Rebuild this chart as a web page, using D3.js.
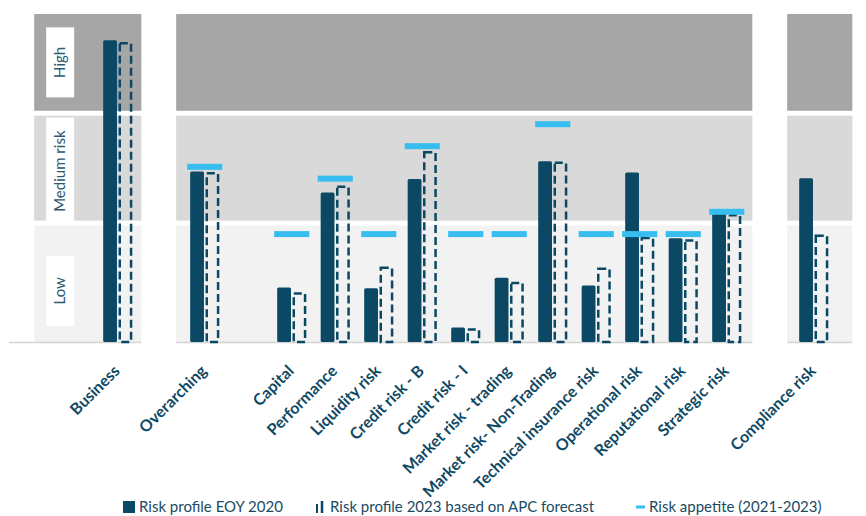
<!DOCTYPE html>
<html>
<head>
<meta charset="utf-8">
<script src="https://cdn.jsdelivr.net/npm/d3@7"></script>
<style>
  body { margin: 0; background: #fff; }
  svg { display: block; font-family: Lato, "Open Sans", sans-serif; }
</style>
</head>
<body>
<script>
(function(){

//chart values
var categories = ["Business", "Overarching", "Capital", "Performance", "Liquidity risk", "Credit risk - B",
    "Credit risk - I", "Market risk - trading", "Market risk- Non-Trading", "Technical insurance risk",
    "Operational risk", "Reputational risk", "Strategic risk", "Compliance risk"];
var profile2020 = [92, 52, 16.6, 45.6, 16.4, 49.7, 4.4, 19.6, 55.1, 17.2, 51.7, 31.6, 39.2, 49.9];
var profile2023 = [91.5, 51.8, 15.2, 47.7, 23, 58.2, 4.2, 18.4, 55, 22.7, 32.1, 31.3, 39, 32.8];
var appetite = [null, 53.4, 32.9, 49.8, 32.9, 59.7, 32.9, 32.9, 66.4, 32.9, 32.9, 32.9, 39.7, null];

//risk bands (score ranges)
var bandNames = ["Low", "Medium risk", "High"];
var bandFrom = [0, 37, 70.5];
var bandTo = [35.5, 69, 100];

//category groups separated by an empty slot, and the background panels
var groups = [["Business"], ["Overarching"],
    ["Capital", "Performance", "Liquidity risk", "Credit risk - B", "Credit risk - I", "Market risk - trading",
     "Market risk- Non-Trading", "Technical insurance risk", "Operational risk", "Reputational risk", "Strategic risk"],
    ["Compliance risk"]];
var panels = [["Business", "Business"], ["Overarching", "Strategic risk"], ["Compliance risk", "Compliance risk"]];

var legendLabels = ["Risk profile EOY 2020", "Risk profile 2023 based on APC forecast", "Risk appetite (2021-2023)"];

//styles
var barColor = "#0b4863",
    appetiteColor = "#38bdf0",
    bandColors = ["#f2f2f2", "#d9d9d9", "#a6a6a6"],
    textColor = "#0f4963";

var width = 866, height = 516;

var svg = d3.select("body").append("svg")
    .attr("width", width)
    .attr("height", height);

//x slots: groups with an empty slot between them
var slots = [];
groups.forEach(function(g, i){
    if (i > 0) slots.push("_gap" + i);
    g.forEach(function(c){ slots.push(c); });
});

var x = d3.scaleBand()
    .domain(slots)
    .range([96, 96 + slots.length * 43.5])
    .paddingInner(0.33)
    .paddingOuter(0.165);

var xInner = d3.scaleBand()
    .domain(["eoy", "fc"])
    .range([0, x.bandwidth()])
    .paddingInner(0.1);

var y = d3.scaleLinear()
    .domain([0, 100])
    .range([342, 14]);

//background panels
var panelPadL = [69, 14, 12],
    panelPadR = [9, 11, 24];

var panelG = svg.append("g").attr("class", "panels");
panels.forEach(function(p, i){
    var x0 = x(p[0]) - panelPadL[i],
        x1 = x(p[1]) + x.bandwidth() + panelPadR[i];
    panelG.selectAll(".band" + i)
        .data(bandNames)
        .enter()
        .append("rect")
        .attr("x", x0)
        .attr("width", x1 - x0)
        .attr("y", function(d, j){ return y(bandTo[j]); })
        .attr("height", function(d, j){ return y(bandFrom[j]) - y(bandTo[j]); })
        .style("fill", function(d, j){ return bandColors[j]; });

    //baseline
    panelG.append("line")
        .attr("x1", i == 0 ? 9 : x0)
        .attr("x2", x1)
        .attr("y1", y(0) + 0.5)
        .attr("y2", y(0) + 0.5)
        .style("stroke", "#d4d4d4")
        .style("stroke-width", 1.5);
});

//band labels in white boxes
var labelX = x(panels[0][0]) - panelPadL[0] + 26;
var bandLabels = svg.append("g").attr("class", "bandLabels")
    .selectAll("g")
    .data(bandNames)
    .enter()
    .append("g")
    .attr("transform", function(d, j){
        var cy = (y(bandFrom[j]) + y(bandTo[j])) / 2 + (j == 0 ? 7 : j == 1 ? 3 : 0);
        return "translate(" + labelX + "," + cy + ")";
    });

bandLabels.append("rect")
    .attr("class", "labelBox")
    .style("fill", "#fff");

bandLabels.append("text")
    .attr("transform", "rotate(-90)")
    .attr("text-anchor", "middle")
    .attr("dy", "0.35em")
    .style("font-size", "15px")
    .style("fill", "#2a5a70")
    .text(function(d){ return d; });

bandLabels.each(function(){
    var g = d3.select(this);
    var len = g.select("text").node().getComputedTextLength();
    var h = Math.max(70, len + 26);
    g.select("rect")
        .attr("x", -14)
        .attr("width", 28)
        .attr("y", -h / 2)
        .attr("height", h);
});

//bars
var data = categories.map(function(c, i){
    return {cat: c, eoy: profile2020[i], fc: profile2023[i], app: appetite[i]};
});

var barG = svg.append("g").attr("class", "bars");

barG.selectAll(".eoy")
    .data(data)
    .enter()
    .append("rect")
    .attr("class", "eoy")
    .attr("x", function(d){ return x(d.cat) + xInner("eoy"); })
    .attr("width", xInner.bandwidth())
    .attr("y", function(d){ return y(d.eoy); })
    .attr("height", function(d){ return y(0) - y(d.eoy); })
    .attr("rx", 1.5)
    .style("fill", barColor);

barG.selectAll(".fc")
    .data(data)
    .enter()
    .append("rect")
    .attr("class", "fc")
    .attr("x", function(d){ return x(d.cat) + xInner("fc") + 1.25; })
    .attr("width", xInner.bandwidth() - 2.5)
    .attr("y", function(d){ return y(d.fc) + 1.25; })
    .attr("height", function(d){ return y(0) - y(d.fc) - 1.25; })
    .style("fill", "none")
    .style("stroke", barColor)
    .style("stroke-width", 2.5)
    .style("stroke-dasharray", "8,4");

//risk appetite markers
barG.selectAll(".appetite")
    .data(data.filter(function(d){ return d.app != null; }))
    .enter()
    .append("rect")
    .attr("class", "appetite")
    .attr("x", function(d){ return x(d.cat) - 3; })
    .attr("width", x.bandwidth() + 6)
    .attr("y", function(d){ return y(d.app) - 3; })
    .attr("height", 6)
    .style("fill", appetiteColor);

//category labels
svg.append("g").attr("class", "xLabels")
    .selectAll("text")
    .data(categories)
    .enter()
    .append("text")
    .attr("transform", function(d){
        return "translate(" + (x(d) + x.bandwidth() / 2 + 3) + "," + (y(0) + 30) + ") rotate(-45)";
    })
    .attr("text-anchor", "end")
    .style("font-size", "16px")
    .style("font-weight", "bold")
    .style("fill", textColor)
    .text(function(d){ return d; });

//legend
var legendY = 507;
var legendX = [123, 316, 636];
var textX = [139, 330, 649];
var legend = svg.append("g").attr("class", "legend");

legend.append("rect")
    .attr("x", legendX[0])
    .attr("y", legendY - 6)
    .attr("width", 12)
    .attr("height", 12)
    .style("fill", barColor);

legend.append("line")
    .attr("x1", legendX[1] + 1).attr("x2", legendX[1] + 1)
    .attr("y1", legendY - 3).attr("y2", legendY + 6)
    .style("stroke", barColor).style("stroke-width", 2);
legend.append("line")
    .attr("x1", legendX[1] + 6).attr("x2", legendX[1] + 6)
    .attr("y1", legendY - 6).attr("y2", legendY + 6)
    .style("stroke", barColor).style("stroke-width", 2.5);

legend.append("line")
    .attr("x1", legendX[2]).attr("x2", legendX[2] + 9)
    .attr("y1", legendY).attr("y2", legendY)
    .style("stroke", appetiteColor).style("stroke-width", 3);

legend.selectAll("text")
    .data(legendLabels)
    .enter()
    .append("text")
    .attr("x", function(d, i){ return textX[i]; })
    .attr("y", legendY)
    .attr("dy", "0.35em")
    .style("font-size", "15px")
    .style("fill", "#1b4a62")
    .text(function(d){ return d; });

})();
</script>
</body>
</html>
